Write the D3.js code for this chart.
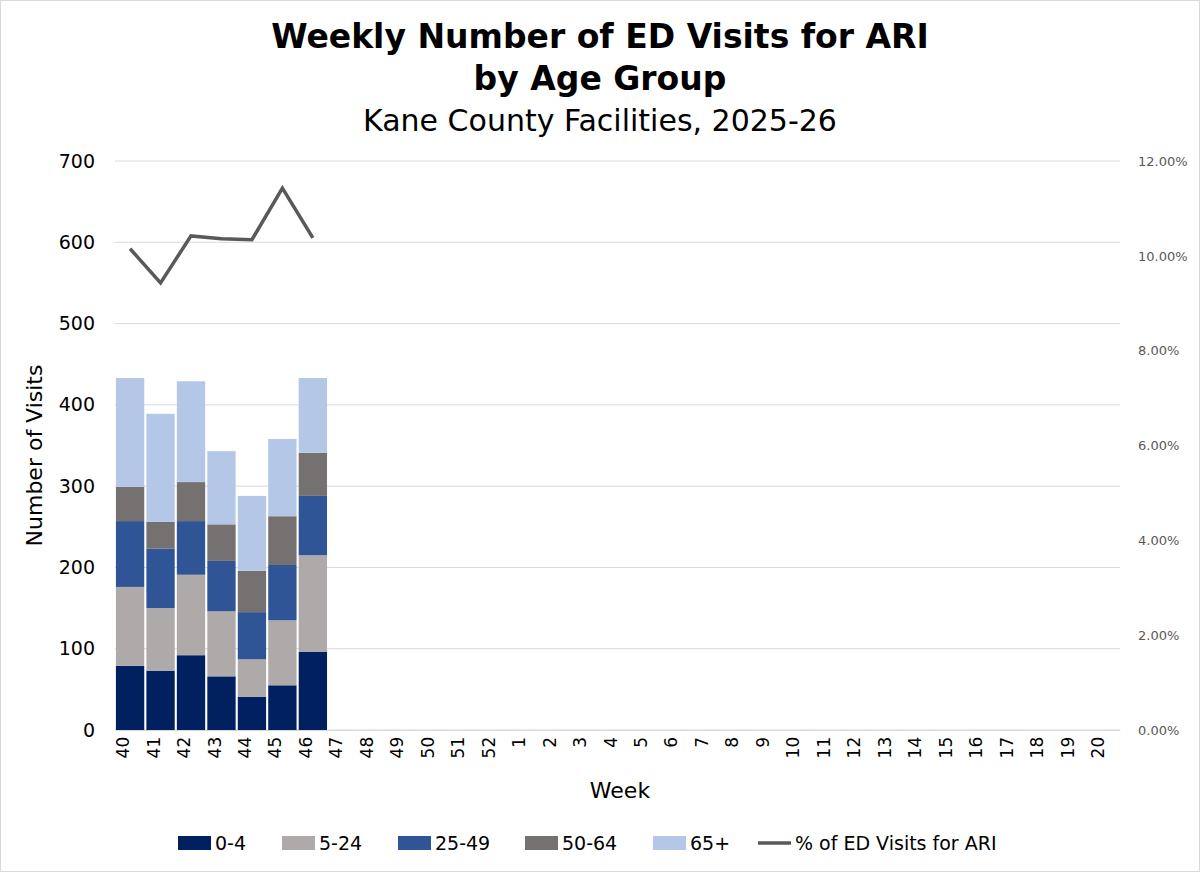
<!DOCTYPE html>
<html>
<head>
<meta charset="utf-8">
<script src="https://cdn.jsdelivr.net/npm/d3@7"></script>
<style>
body { margin: 0; background: #fff; }
text { font-family: "DejaVu Sans", Verdana, sans-serif; }
</style>
</head>
<body>
<div id="chart"></div>
<script>
// weeks of the season
const weeks = ["40","41","42","43","44","45","46","47","48","49","50","51","52",
    "1","2","3","4","5","6","7","8","9","10","11","12","13","14","15","16","17","18","19","20"];

const ageGroups = ["0-4", "5-24", "25-49", "50-64", "65+"];
const colors = ["#002060", "#aeaaaa", "#2f5597", "#767171", "#b4c7e7"];

// visits per age group, weeks 40-46
const v0_4   = [79, 73, 92, 66, 41, 55, 96];
const v5_24  = [97, 77, 99, 80, 46, 80, 119];
const v25_49 = [81, 73, 66, 62, 58, 68, 73];
const v50_64 = [42, 33, 48, 45, 51, 60, 53];
const v65    = [134, 133, 124, 90, 92, 95, 92];

// % of ED visits for ARI
const pctARI = [10.15, 9.43, 10.42, 10.36, 10.34, 11.43, 10.38];

const series = [v0_4, v5_24, v25_49, v50_64, v65];
const rows = v0_4.map((_, i) => {
    const r = { week: weeks[i] };
    ageGroups.forEach((g, j) => r[g] = series[j][i]);
    return r;
});

const W = 1200, H = 872;
const margin = { top: 161, right: 80, bottom: 142, left: 115 };
const width = W - margin.left - margin.right,
      height = H - margin.top - margin.bottom;

const root = d3.select("#chart").append("svg")
    .attr("width", W).attr("height", H);

root.append("rect").attr("x", 0.5).attr("y", 0.5).attr("width", W - 1).attr("height", H - 1)
    .attr("fill", "#fff").attr("stroke", "#d9d9d9");

const svg = root.append("g").attr("transform", `translate(${margin.left},${margin.top})`);

const x = d3.scaleBand().domain(weeks).range([0, width]).paddingInner(0.07).paddingOuter(0.03);
const y = d3.scaleLinear().domain([0, 700]).range([height, 0]);
const y2 = d3.scaleLinear().domain([0, 12]).range([height, 0]);

// gridlines
svg.selectAll(".grid").data(y.ticks(7)).enter().append("line")
    .attr("x1", 0).attr("x2", width)
    .attr("y1", d => y(d)).attr("y2", d => y(d))
    .attr("stroke", "#d9d9d9");

// stacked bars
const stacked = d3.stack().keys(ageGroups)(rows);
svg.selectAll(".layer").data(stacked).enter().append("g")
    .attr("fill", (d, i) => colors[i])
    .selectAll("rect").data(d => d).enter().append("rect")
    .attr("x", d => x(d.data.week))
    .attr("width", x.bandwidth())
    .attr("y", d => y(d[1]))
    .attr("height", d => y(d[0]) - y(d[1]));

// line
const line = d3.line()
    .x((d, i) => x(weeks[i]) + x.bandwidth() / 2)
    .y(d => y2(d));
svg.append("path").datum(pctARI)
    .attr("d", line).attr("fill", "none")
    .attr("stroke", "#595959").attr("stroke-width", 3.5);

// left axis
const yAxis = svg.append("g").call(d3.axisLeft(y).ticks(7).tickSize(0).tickPadding(20));
yAxis.select(".domain").remove();
yAxis.selectAll("text").attr("font-size", 19).attr("fill", "#000")
    .attr("font-family", "DejaVu Sans, Verdana, sans-serif");

// right axis
const y2Axis = svg.append("g").attr("transform", `translate(${width},0)`)
    .call(d3.axisRight(y2).tickValues([0, 2, 4, 6, 8, 10, 12]).tickSize(0).tickPadding(18)
        .tickFormat(d => d.toFixed(2) + "%"));
y2Axis.select(".domain").remove();
y2Axis.selectAll("text").attr("font-size", 13).attr("fill", "#595959")
    .attr("font-family", "DejaVu Sans, Verdana, sans-serif");

// x axis
const xAxis = svg.append("g").attr("transform", `translate(0,${height})`)
    .call(d3.axisBottom(x).tickSize(0).tickPadding(8));
xAxis.select(".domain").attr("stroke", "#d9d9d9");
xAxis.selectAll("text").attr("font-size", 17).attr("fill", "#000")
    .attr("font-family", "DejaVu Sans, Verdana, sans-serif")
    .attr("transform", "rotate(-90)")
    .attr("text-anchor", "end")
    .attr("dx", "-0.4em").attr("dy", "-0.35em")
    .attr("x", 0).attr("y", 0)
    .style("dominant-baseline", "middle");

// axis titles
root.append("text").attr("x", W / 2 + 20).attr("y", 798).attr("text-anchor", "middle")
    .attr("font-size", 22).text("Week");
root.append("text").attr("transform", `translate(42,${margin.top + height / 2 + 10}) rotate(-90)`)
    .attr("text-anchor", "middle").attr("font-size", 22).text("Number of Visits");

// titles
root.append("text").attr("x", W / 2).attr("y", 48).attr("text-anchor", "middle")
    .attr("font-size", 33).attr("font-weight", "bold").text("Weekly Number of ED Visits for ARI");
root.append("text").attr("x", W / 2).attr("y", 90).attr("text-anchor", "middle")
    .attr("font-size", 33).attr("font-weight", "bold").text("by Age Group");
root.append("text").attr("x", W / 2).attr("y", 131).attr("text-anchor", "middle")
    .attr("font-size", 30).text("Kane County Facilities, 2025-26");

// legend
const legendItems = ageGroups.map((g, i) => ({ label: g, color: colors[i], type: "rect" }))
    .concat([{ label: "% of ED Visits for ARI", color: "#595959", type: "line" }]);
const legendX = [178, 282, 398, 525, 653, 758];
const lg = root.append("g").attr("transform", "translate(0,843)");
legendItems.forEach((d, i) => {
    const g = lg.append("g").attr("transform", `translate(${legendX[i]},0)`);
    if (d.type === "rect") {
        g.append("rect").attr("x", 0).attr("y", -7).attr("width", 33).attr("height", 14).attr("fill", d.color);
    } else {
        g.append("line").attr("x1", 0).attr("x2", 33).attr("y1", 0).attr("y2", 0)
            .attr("stroke", d.color).attr("stroke-width", 3.5);
    }
    g.append("text").attr("x", 37).attr("y", 7).attr("font-size", 19).text(d.label);
});
</script>
</body>
</html>
